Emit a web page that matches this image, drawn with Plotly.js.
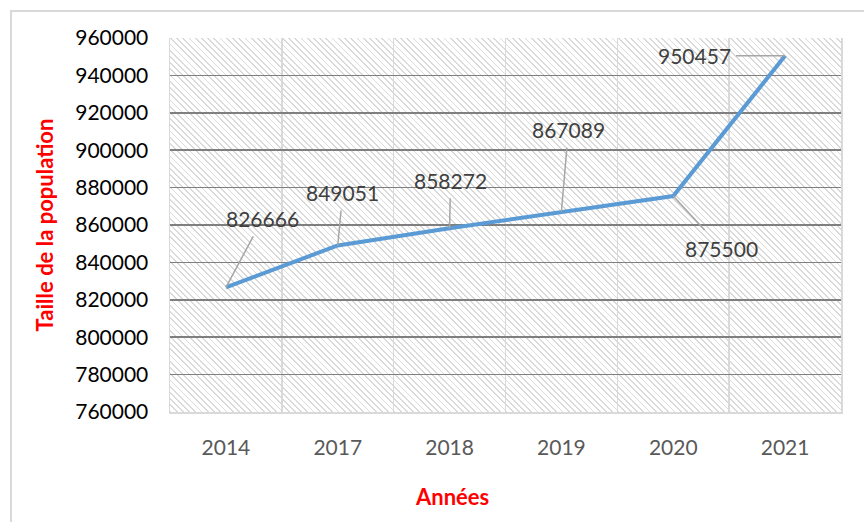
<!DOCTYPE html>
<html>
<head>
<meta charset="utf-8">
<script src="https://cdn.plot.ly/plotly-3.0.1.min.js"></script>
<style>
  html, body { margin: 0; padding: 0; background: #ffffff; }
  #wrap { position: relative; width: 864px; height: 522px; overflow: hidden; background: #ffffff; }
  #frame { position: absolute; left: 10px; top: 10px; width: 900px; height: 600px;
           border-left: 2px solid #d9d9d9; border-top: 2px solid #d9d9d9; z-index: 0; }
  #hatch { position: absolute; left: 170px; top: 38px; width: 671px; height: 374px; z-index: 1;
           background: repeating-linear-gradient(45deg, #dadada 0px, #dadada 1.3px, #ffffff 1.3px, #ffffff 4.4px); }
  #chart { position: absolute; left: 0; top: 0; width: 864px; height: 522px; z-index: 2; }
</style>
</head>
<body>
<div id="wrap">
  <div id="frame"></div>
  <div id="hatch"></div>
  <div id="chart"></div>
</div>
<script>
// Data
const years = ['2014', '2017', '2018', '2019', '2020', '2021'];
const population = [826666, 849051, 858272, 867089, 875500, 950457];
const yTickValues = [760000, 780000, 800000, 820000, 840000, 860000, 880000, 900000, 920000, 940000, 960000];

// Label placement (pixel offsets of each data label from its point)
const labelDX = [37, 5, 1, 7, 48, -91];
const labelDY = [-69, -53, -48, -82, 52, 0];

const FONT = 'Lato, "Open Sans", "Noto Sans", sans-serif';

const trace = {
  x: years,
  y: population,
  type: 'scatter',
  mode: 'lines',
  line: { color: '#5b9bd5', width: 4 },
  hoverinfo: 'x+y'
};

const annotations = years.map((yr, i) => ({
  x: i,
  y: population[i],
  xref: 'x',
  yref: 'y',
  text: String(population[i]),
  showarrow: true,
  arrowhead: 0,
  arrowwidth: 1.5,
  arrowcolor: '#a6a6a6',
  ax: labelDX[i],
  ay: labelDY[i],
  borderpad: 5,
  font: { family: FONT, size: 21, color: '#404040' }
}));

// X-axis title (placed under the chart area, as in the reference)
annotations.push({
  xref: 'paper',
  yref: 'paper',
  x: 0.42,
  y: -0.227,
  xanchor: 'center',
  yanchor: 'middle',
  showarrow: false,
  text: 'Années',
  font: { family: FONT, size: 22, color: '#ff0000', weight: 'bold' }
});

const layout = {
  width: 864,
  height: 522,
  margin: { l: 170, r: 23, t: 38, b: 110 },
  paper_bgcolor: 'rgba(0,0,0,0)',
  plot_bgcolor: 'rgba(0,0,0,0)',
  showlegend: false,
  xaxis: {
    type: 'category',
    categoryorder: 'array',
    categoryarray: years,
    range: [-0.5, years.length - 0.5],
    autorange: false,
    tickson: 'boundaries',
    tickangle: 0,
    showgrid: true,
    gridcolor: '#d9d9d9',
    gridwidth: 1.5,
    showline: true,
    linecolor: '#d9d9d9',
    linewidth: 2,
    mirror: false,
    ticks: '',
    ticklabelstandoff: 16,
    tickfont: { family: FONT, size: 21, color: '#595959' },
    zeroline: false
  },
  yaxis: {
    range: [760000, 960000],
    autorange: false,
    tickvals: yTickValues,
    ticktext: yTickValues.map(String),
    showgrid: true,
    gridcolor: '#7f7f7f',
    gridwidth: 1.5,
    showline: true,
    linecolor: '#d9d9d9',
    linewidth: 1.5,
    mirror: true,
    ticks: '',
    ticklabelstandoff: 16,
    tickfont: { family: FONT, size: 21, color: '#000000' },
    title: { text: 'Taille de la population', standoff: 15, font: { family: FONT, size: 22, color: '#ff0000', weight: 'bold' } },
    zeroline: false
  },
  annotations: annotations
};

Plotly.newPlot('chart', [trace], layout, { displayModeBar: false, staticPlot: true });
</script>
</body>
</html>
